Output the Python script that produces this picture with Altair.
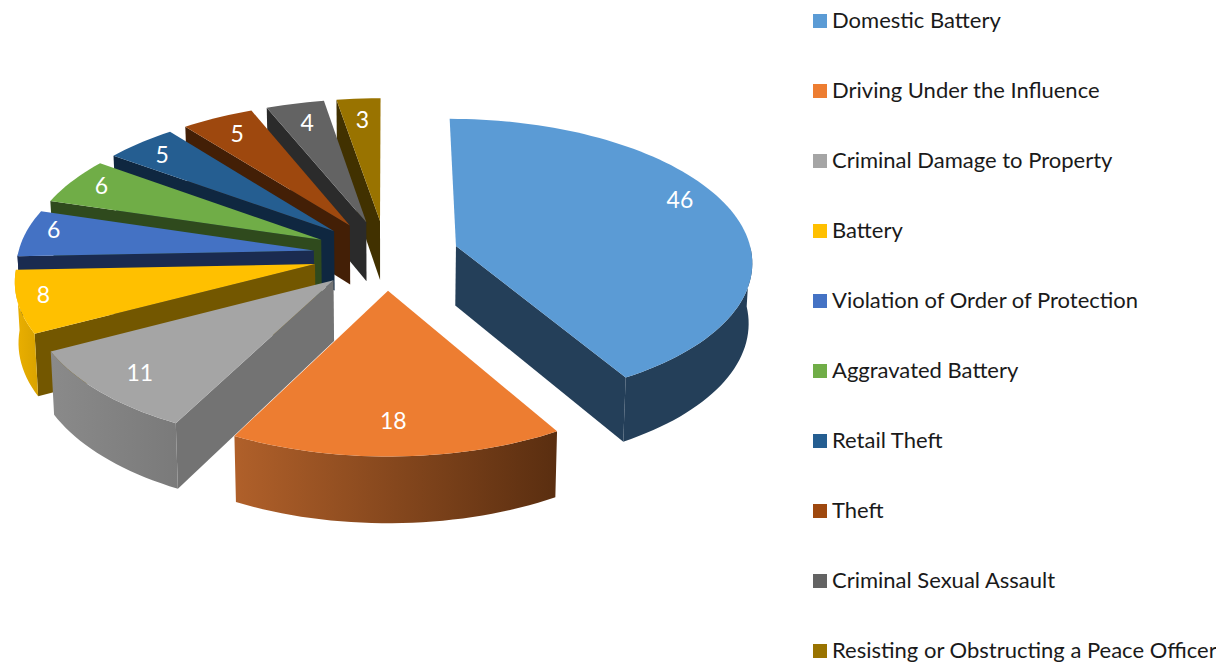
import math
import altair as alt
import pandas as pd

categories = ["Domestic Battery", "Driving Under the Influence", "Criminal Damage to Property",
              "Battery", "Violation of Order of Protection", "Aggravated Battery", "Retail Theft",
              "Theft", "Criminal Sexual Assault", "Resisting or Obstructing a Peace Officer"]
values = [46, 18, 11, 8, 6, 6, 5, 5, 4, 3]
top_colors = ["#5B9BD5", "#ED7D31", "#A5A5A5", "#FFC000", "#4472C4",
              "#70AD47", "#255E91", "#9E480E", "#636363", "#997300"]
radial_colors = ["#243F59", "#5C3013", "#737373", "#735700", "#1A2B50",
                 "#2F4A1D", "#0F2740", "#431F06", "#2B2B2B", "#413100"]
rim_left = ["#243F59", "#B0602A", "#8A8A8A", "#EBB000", "#1A2B50",
            "#2F4A1D", "#0F2740", "#431F06", "#2B2B2B", "#413100"]
rim_right = ["#243F59", "#5A2E10", "#7A7A7A", "#D9A300", "#1A2B50",
             "#2F4A1D", "#0F2740", "#431F06", "#2B2B2B", "#413100"]

W, H = 1208, 654
CX, CY = 386 - 8, 255 - 8
R, K, P, EXPLODE, DEPTH = 296.0, 0.478, 0.10, 73.0, 60.0
ROT = math.radians(1.8)
total = sum(values)


def label_nudge(i):
    return [(3, -16), (-2, 2), (-10, 6), (-35, 2), (-29, -6),
            (-19, -5), (-15, -4), (-5, -3), (-1, -2), (0, 0)][i]


def warp(a):
    return a + ROT * (1 - math.cos(a)) / 2


def project(X, Y, low=False):
    f = 1 / (1 - P * Y / R)
    x, y = CX + X * f, CY + Y * K * f
    if low:
        x, y = CX + (x - CX) * 0.99, y + DEPTH * f ** 0.8
    return x, y


def slice_points(a0, a1):
    mid = (a0 + a1) / 2
    ox, oy = EXPLODE * math.sin(mid), -EXPLODE * math.cos(mid)
    n = max(4, int((a1 - a0) / 0.03))
    angles = [a0 + (a1 - a0) * j / n for j in range(n + 1)]
    arc = [(ox + R * math.sin(a), oy - R * math.cos(a)) for a in angles]
    return (ox, oy), arc, angles


def frame(points, cat):
    return pd.DataFrame({"x": [p[0] for p in points], "y": [p[1] for p in points],
                         "i": range(len(points)), "cat": cat})


xs = alt.X("x:Q", scale=alt.Scale(domain=[0, W], nice=False, zero=False), axis=None)
ys = alt.Y("y:Q", scale=alt.Scale(domain=[H, 0], nice=False, zero=False), axis=None)
fill_enc = alt.Fill("cat:N",
                    scale=alt.Scale(domain=categories, range=top_colors),
                    legend=alt.Legend(title=None, orient="none", legendX=801, legendY=2,
                                      symbolType="square", symbolSize=196, symbolStrokeWidth=0,
                                      symbolOpacity=1, labelFont="Lato", labelFontSize=22,
                                      labelColor="#1a1a1a", labelLimit=500, rowPadding=48,
                                      labelOffset=1))


def poly(df, **mark):
    return alt.Chart(df).mark_line(strokeWidth=0, **mark).encode(x=xs, y=ys, order="i:Q")


layers = []
labels = []
cum = 0
spans = []
for v in values:
    spans.append((warp(cum / total * 2 * math.pi), warp((cum + v) / total * 2 * math.pi)))
    cum += v

for idx in reversed(range(len(values))):
    a0, a1 = spans[idx]
    cat = categories[idx]
    apex, arc, angles = slice_points(a0, a1)
    walls = []
    if a0 > math.pi:
        walls.append(arc[0])
    if a1 < math.pi:
        walls.append(arc[-1])
    for edge in walls:
        wall = [project(*apex), project(*edge), project(*edge, low=True), project(*apex, low=True)]
        layers.append(poly(frame(wall, cat), fill=radial_colors[idx]))
    front = [p for p, a in zip(arc, angles) if math.cos(a) <= 0.02]
    if len(front) > 1:
        rim = [project(*p) for p in front] + [project(*p, low=True) for p in reversed(front)]
        grad = alt.Gradient(gradient="linear", x1=0, y1=0, x2=1, y2=0,
                            stops=[alt.GradientStop(offset=0, color=rim_left[idx]),
                                   alt.GradientStop(offset=1, color=rim_right[idx])])
        layers.append(poly(frame(rim, cat), fill=grad))
    top = [project(*apex)] + [project(*p) for p in arc]
    layers.append(alt.Chart(frame(top, cat)).mark_line(strokeWidth=0).encode(
        x=xs, y=ys, order="i:Q", fill=fill_enc))
    t = 0.8
    mid = (a0 + a1) / 2
    lx, ly = project(apex[0] + t * R * math.sin(mid), apex[1] - t * R * math.cos(mid))
    nx, ny = label_nudge(idx)
    labels.append({"x": lx + nx, "y": ly + ny, "v": str(values[idx])})

text = alt.Chart(pd.DataFrame(labels)).mark_text(
    font="Lato", fontSize=23, color="white", align="center", baseline="middle"
).encode(x=xs, y=ys, text="v:N")

chart = alt.layer(*layers, text).properties(
    width=W, height=H, padding=0, autosize=alt.AutoSizeParams(type="none")
).configure_view(stroke=None)

chart.save("out.html", embed_options={"renderer": "svg", "actions": False})
